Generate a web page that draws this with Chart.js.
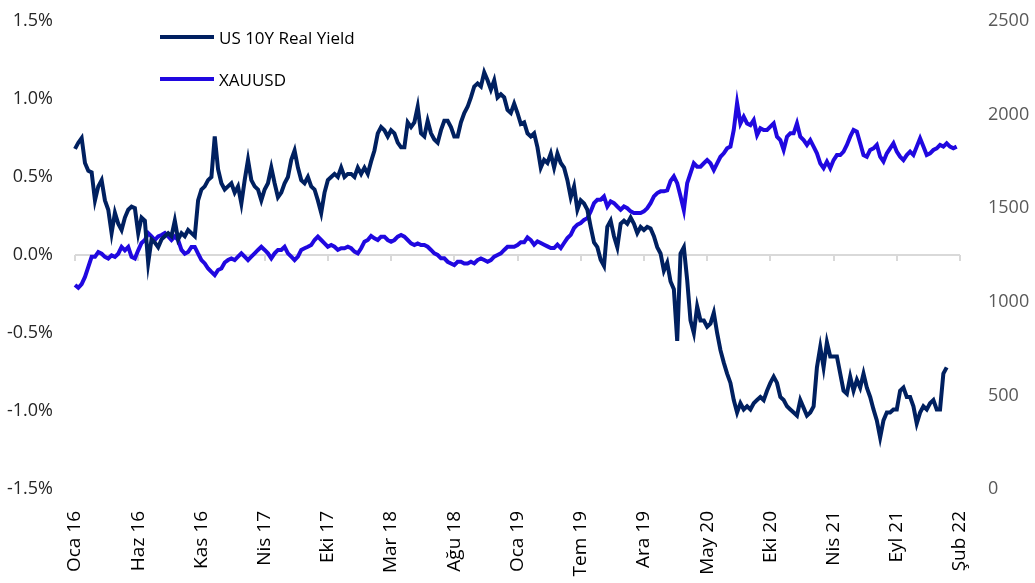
<!DOCTYPE html>
<html>
<head>
<meta charset="utf-8">
<script src="https://cdn.jsdelivr.net/npm/chart.js@4"></script>
<style>
  body { margin: 0; background: #fff; }
  #wrap { position: relative; width: 1035px; height: 583px; }
  .legend { position: absolute; left: 160px; height: 24px; display: flex; align-items: center;
            font-family: "Open Sans", sans-serif; font-size: 17px; color: #000; white-space: nowrap; }
  .legend .line { display: inline-block; width: 54px; height: 4px; margin-right: 5px; }
</style>
</head>
<body>
<div id="wrap">
  <canvas id="chart" width="1035" height="583"></canvas>
  <div class="legend" style="top:25px"><span class="line" style="background:#002060"></span>US 10Y Real Yield</div>
  <div class="legend" style="top:67px"><span class="line" style="background:#2008e0"></span>XAUUSD</div>
</div>
<script>
const navyColour = "#002060";
const goldColour = "#2008e0";

// x axis labels, one every 19 points
const tickLabels = ["Oca 16", "Haz 16", "Kas 16", "Nis 17", "Eki 17", "Mar 18", "Ağu 18", "Oca 19",
  "Tem 19", "Ara 19", "May 20", "Eki 20", "Nis 21", "Eyl 21", "Şub 22"];
const pointsPerTick = 19;

// US 10Y real yield, %
const realYield = [
  0.68, 0.72, 0.75, 0.59, 0.54, 0.53, 0.35, 0.44, 0.48, 0.35, 0.29, 0.14, 0.27, 0.20, 0.16, 0.24,
  0.29, 0.31, 0.30, 0.14, 0.24, 0.22, -0.05, 0.10, 0.08, 0.05, 0.10, 0.12, 0.14, 0.12, 0.22, 0.10,
  0.14, 0.12, 0.16, 0.14, 0.12, 0.35, 0.42, 0.44, 0.48, 0.50, 0.76, 0.55, 0.46, 0.42, 0.44,
  0.46, 0.40, 0.44, 0.33, 0.48, 0.61, 0.48, 0.44, 0.42, 0.35, 0.42, 0.46, 0.56, 0.46, 0.37, 0.40,
  0.46, 0.50, 0.61, 0.67, 0.56, 0.48, 0.46, 0.50, 0.44, 0.42, 0.35, 0.27, 0.40, 0.48, 0.50, 0.52,
  0.50, 0.56, 0.50, 0.52, 0.52, 0.50, 0.56, 0.52, 0.56, 0.52, 0.60,
  0.67, 0.78, 0.82, 0.80, 0.76, 0.80, 0.78, 0.72, 0.69, 0.69, 0.85, 0.82, 0.85, 0.95, 0.78, 0.76,
  0.86, 0.78, 0.74, 0.72, 0.80, 0.86, 0.86, 0.82, 0.76, 0.76, 0.85, 0.91, 0.95, 1.01, 1.08, 1.10,
  1.08, 1.17, 1.12, 1.06, 1.12, 1.01, 1.03, 1.01, 0.93, 0.91, 0.97, 0.91, 0.84, 0.85, 0.78,
  0.76, 0.78, 0.69, 0.56, 0.61, 0.59, 0.65, 0.56, 0.65, 0.59, 0.56, 0.48, 0.37, 0.44, 0.29, 0.35,
  0.33, 0.29, 0.18, 0.08, 0.05, -0.03, -0.07, 0.18, 0.22, 0.12, 0.05, 0.20, 0.22, 0.20, 0.24, 0.20,
  0.14, 0.18, 0.16, 0.18, 0.17, 0.12, 0.05, 0.01, -0.10, -0.05, -0.17, -0.22, -0.55,
  0.01, 0.05, -0.16, -0.42, -0.50, -0.33, -0.42, -0.42, -0.46, -0.44, -0.37, -0.50, -0.61, -0.69,
  -0.76, -0.82, -0.93, -1.01, -0.95, -0.99, -0.97, -0.99, -0.95, -0.93, -0.91, -0.93, -0.87, -0.82,
  -0.78, -0.82, -0.91, -0.93, -0.97, -0.99, -1.01, -1.03, -0.93, -0.98, -1.03,
  -1.01, -0.97, -0.72, -0.59, -0.72, -0.56, -0.65, -0.65, -0.65, -0.76, -0.87, -0.89, -0.78, -0.87,
  -0.80, -0.85, -0.76, -0.85, -0.91, -0.99, -1.06, -1.17, -1.06, -1.01, -1.01, -0.99, -0.99, -0.87,
  -0.85, -0.91, -0.91, -0.97, -1.08, -1.01, -0.97, -0.99, -0.95, -0.93, -0.99, -0.99, -0.76, -0.72
];

// XAUUSD, USD/oz
const goldPrice = [
  1090, 1075, 1095, 1133, 1186, 1240, 1240, 1266, 1257, 1240, 1231, 1248, 1240, 1257, 1293, 1275,
  1293, 1240, 1231, 1275, 1314, 1330, 1367, 1349, 1330, 1349, 1357, 1367, 1349, 1330, 1349, 1330,
  1277, 1257, 1266, 1293, 1293, 1257, 1223, 1205, 1178, 1160, 1143, 1170, 1178, 1210, 1223,
  1232, 1223, 1241, 1259, 1241, 1223, 1241, 1259, 1277, 1294, 1277, 1259, 1232, 1259, 1277, 1277,
  1294, 1259, 1241, 1223, 1241, 1277, 1286, 1294, 1303, 1330, 1348, 1330, 1312, 1294, 1303, 1294,
  1277, 1286, 1286, 1294, 1286, 1268, 1259, 1286, 1321, 1330, 1352,
  1339, 1330, 1348, 1348, 1330, 1321, 1330, 1348, 1357, 1348, 1330, 1312, 1303, 1312, 1303, 1303,
  1294, 1277, 1259, 1250, 1232, 1232, 1214, 1205, 1196, 1214, 1214, 1205, 1205, 1214, 1205, 1223,
  1232, 1223, 1214, 1223, 1241, 1250, 1259, 1277, 1294, 1294, 1294, 1303, 1318, 1318, 1344,
  1330, 1305, 1323, 1314, 1305, 1296, 1287, 1287, 1305, 1287, 1314, 1340, 1358, 1394, 1412, 1421,
  1437, 1447, 1483, 1527, 1545, 1545, 1563, 1509, 1536, 1527, 1509, 1492, 1509, 1500, 1483, 1474,
  1474, 1474, 1483, 1500, 1527, 1563, 1581, 1590, 1590, 1595, 1645, 1670, 1634,
  1564, 1490, 1634, 1687, 1740, 1722, 1722, 1740, 1757, 1740, 1704, 1740, 1775, 1793, 1820, 1829,
  1918, 2062, 1953, 1989, 1953, 1944, 1971, 1891, 1927, 1918, 1918, 1936, 1953, 1882, 1864, 1811,
  1882, 1900, 1900, 1953, 1882, 1864, 1838,
  1864, 1829, 1793, 1740, 1714, 1749, 1714, 1757, 1784, 1784, 1802, 1838, 1882, 1918, 1909, 1847,
  1784, 1775, 1811, 1820, 1838, 1775, 1749, 1793, 1820, 1847, 1802, 1775, 1757, 1784, 1802, 1784,
  1829, 1873, 1829, 1784, 1793, 1811, 1820, 1838, 1829, 1847, 1829, 1820, 1829
];

const labels = [];
for (let i = 0; i <= pointsPerTick * (tickLabels.length - 1); i++) {
  labels.push(i % pointsPerTick === 0 ? tickLabels[i / pointsPerTick] : "");
}

// grey axis line on 0.0% with small tick marks under each label
const zeroLine = {
  id: "zeroLine",
  beforeDatasetsDraw(chart) {
    const { ctx, chartArea, scales } = chart;
    const y = Math.round(scales.y.getPixelForValue(0));
    ctx.save();
    ctx.strokeStyle = "#d9d9d9";
    ctx.lineWidth = 2;
    ctx.beginPath();
    ctx.moveTo(chartArea.left, y);
    ctx.lineTo(chartArea.right, y);
    labels.forEach((label, i) => {
      if (label) {
        const x = Math.round(scales.x.getPixelForValue(i));
        ctx.moveTo(x, y);
        ctx.lineTo(x, y + 6);
      }
    });
    ctx.stroke();
    ctx.restore();
  },
};

// fixed axis sizes so the plot area sits where the original one does
const fixWidth = (scale) => {
  scale.width = 75;
  scale.paddingTop = 0;
  scale.paddingBottom = 0;
};

Chart.defaults.font.family = '"Open Sans", sans-serif';

new Chart(document.getElementById("chart"), {
  type: "line",
  data: {
    labels: labels,
    datasets: [
      {
        label: "US 10Y Real Yield",
        data: realYield,
        yAxisID: "y",
        borderColor: navyColour,
        borderWidth: 4,
        pointRadius: 0,
        tension: 0,
      },
      {
        label: "XAUUSD",
        data: goldPrice,
        yAxisID: "y2",
        borderColor: goldColour,
        borderWidth: 4,
        pointRadius: 0,
        tension: 0,
      },
    ],
  },
  options: {
    responsive: false,
    animation: false,
    devicePixelRatio: 1,
    layout: { padding: { top: 21, left: 0, right: 0, bottom: 0 } },
    plugins: { legend: { display: false }, tooltip: { enabled: false } },
    scales: {
      x: {
        type: "category",
        offset: false,
        grid: { display: false },
        border: { display: false },
        ticks: {
          autoSkip: false,
          minRotation: 90,
          maxRotation: 90,
          padding: 14,
          color: "#000",
          font: { size: 19 },
        },
        afterFit: (scale) => { scale.height = 94; },
      },
      y: {
        position: "left",
        min: -1.5,
        max: 1.5,
        grid: { display: false, drawTicks: false },
        border: { display: false },
        ticks: {
          stepSize: 0.5,
          padding: 22,
          color: "#262626",
          font: { size: 18 },
          callback: (value) => value.toFixed(1) + "%",
        },
        afterFit: fixWidth,
      },
      y2: {
        position: "right",
        min: 0,
        max: 2500,
        grid: { display: false, drawTicks: false },
        border: { display: false },
        ticks: {
          stepSize: 500,
          padding: 28,
          color: "#595959",
          font: { size: 18 },
          callback: (value) => String(value),
        },
        afterFit: fixWidth,
      },
    },
  },
  plugins: [zeroLine],
});
</script>
</body>
</html>
